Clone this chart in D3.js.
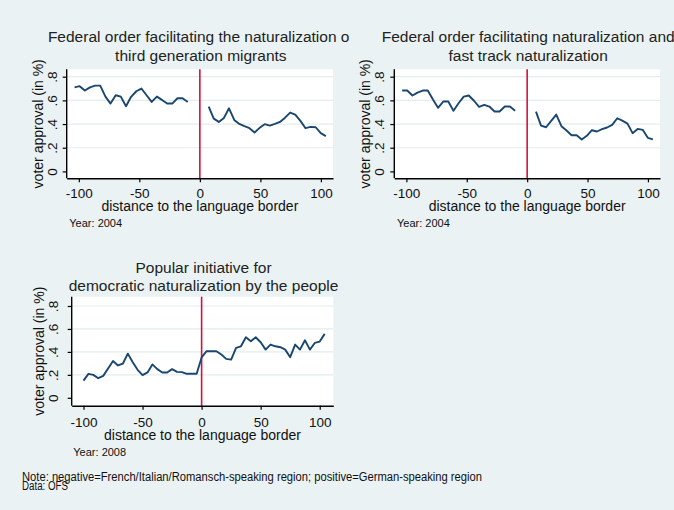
<!DOCTYPE html>
<html><head><meta charset="utf-8">
<script src="https://cdn.jsdelivr.net/npm/d3@7"></script>
<style>html,body{margin:0;padding:0;background:#eaf2f3}svg{display:block}</style>
</head><body>
<svg id="c" width="674" height="510"></svg>
<script>
// ---------------- data ----------------
const xTicks = [-100, -50, 0, 50, 100];
const xTickLabels = ["-100", "-50", "0", "50", "100"];
const yTicks = [0, 0.2, 0.4, 0.6, 0.8];
const yTickLabels = ["0", ".2", ".4", ".6", ".8"];

const title1 = ["Federal order facilitating the naturalization of", "third generation migrants"];
const title2 = ["Federal order facilitating naturalization and", "fast track naturalization"];
const title3 = ["Popular initiative for", "democratic naturalization by the people"];
const xTitle = "distance to the language border";
const yTitle = "voter approval (in %)";
const years = ["Year: 2004", "Year: 2004", "Year: 2008"];
const noteLines = ["Note: negative=French/Italian/Romansch-speaking region; positive=German-speaking region", "Data: OFS"];

// 2004 votes: distance bins (left = French/Italian side, right = German side)
const dist2004Left = [-103.5, -99.3, -95, -90.8, -86.5, -82.3, -78, -73.8, -69.5, -65.3, -61, -56.8, -52.5, -48.3, -44, -39.8, -35.5, -31.3, -27, -22.8, -18.5, -14.3, -10];
const dist2004Right = [7.3, 11.5, 15.7, 19.9, 24.1, 28.4, 32.6, 36.8, 41, 45.2, 49.4, 53.6, 57.8, 62, 66.2, 70.4, 74.6, 78.8, 83.1, 87.3, 91.5, 95.7, 99.9, 104.1];

const thirdGenLeft = [0.71, 0.72, 0.683, 0.71, 0.725, 0.725, 0.632, 0.573, 0.643, 0.632, 0.551, 0.63, 0.677, 0.70, 0.643, 0.587, 0.632, 0.604, 0.573, 0.573, 0.618, 0.618, 0.587];
const thirdGenRight = [0.547, 0.446, 0.418, 0.452, 0.533, 0.435, 0.401, 0.382, 0.365, 0.329, 0.368, 0.399, 0.387, 0.401, 0.418, 0.454, 0.497, 0.480, 0.427, 0.365, 0.376, 0.373, 0.323, 0.298];

const fastTrackLeft = [0.683, 0.683, 0.641, 0.666, 0.683, 0.683, 0.607, 0.537, 0.590, 0.590, 0.512, 0.576, 0.632, 0.641, 0.597, 0.545, 0.562, 0.548, 0.506, 0.506, 0.548, 0.548, 0.512];
const fastTrackRight = [0.505, 0.387, 0.373, 0.427, 0.480, 0.382, 0.345, 0.306, 0.306, 0.270, 0.301, 0.348, 0.337, 0.357, 0.371, 0.393, 0.449, 0.429, 0.404, 0.323, 0.359, 0.351, 0.284, 0.270];

// 2008 vote
const dist2008 = [-100, -95.8, -91.7, -87.5, -83.3, -79.2, -75, -70.8, -66.7, -62.5, -58.3, -54.2, -50, -45.8, -41.7, -37.5, -33.3, -29.2, -25, -20.8, -16.7, -12.5, -8.3, -4.2, 0,
  4.2, 8.3, 12.5, 16.7, 20.8, 25, 29.2, 33.3, 37.5, 41.7, 45.8, 50, 54.2, 58.3, 62.5, 66.7, 70.8, 75, 79.2, 83.3, 87.5, 91.7, 95.8, 100, 104.2];
const democraticNat = [0.15, 0.209, 0.20, 0.171, 0.191, 0.256, 0.32, 0.282, 0.297, 0.385, 0.309, 0.244, 0.197, 0.221, 0.291, 0.25, 0.221, 0.221, 0.25, 0.226, 0.224, 0.209, 0.209, 0.209, 0.352,
  0.406, 0.406, 0.406, 0.377, 0.339, 0.333, 0.435, 0.449, 0.528, 0.493, 0.528, 0.484, 0.42, 0.464, 0.449, 0.441, 0.42, 0.354, 0.464, 0.42, 0.501, 0.42, 0.478, 0.49, 0.557];

// ---------------- drawing ----------------
const BG = "#eaf2f3", GRID = "#e3ecef", LINE = "#1a476f", RED = "#d1123f";
const FONT = "'Liberation Sans', Arial, Helvetica, sans-serif";
const svg = d3.select("#c");
svg.append("rect").attr("width", 674).attr("height", 510).attr("fill", BG);
const defs = svg.append("defs");

const panels = [
  { clip: [0, 0, 349, 250], L: 66.7, R: 333, T: 69.3, B: 178.3, xd: [-110, 110], y0: 171.4, y8: 76.7,
    title: title1, tY: [42.2, 60.6], ytx: 14.4, ytt: 29, xtY: 198, xttY: 210.5, yearY: 227, yearX: 69.3,
    series: [[dist2004Left, thirdGenLeft], [dist2004Right, thirdGenRight]], year: years[0] },
  { clip: [349, 0, 325, 250], L: 394.3, R: 660, T: 69.3, B: 178.3, xd: [-110, 110], y0: 171.4, y8: 76.7,
    title: title2, tY: [42.2, 60.6], ytx: 14.4, ytt: 29, xtY: 198, xttY: 210.5, yearY: 227, yearX: 397,
    series: [[dist2004Left, fastTrackLeft], [dist2004Right, fastTrackRight]], year: years[1] },
  { clip: [0, 250, 349, 210], L: 71.7, R: 333.3, T: 296.7, B: 405.7, xd: [-110, 111.5], y0: 397.8, y8: 306,
    title: title3, tY: [273.4, 290.6], ytx: 17.7, ytt: 33, xtY: 427.4, xttY: 439.5, yearY: 455.7, yearX: 73.3,
    series: [[dist2008, democraticNat]], year: years[2] }
];

panels.forEach((p, i) => {
  const cid = "clip" + i;
  defs.append("clipPath").attr("id", cid).append("rect")
    .attr("x", p.clip[0]).attr("y", p.clip[1]).attr("width", p.clip[2]).attr("height", p.clip[3]);
  const g = svg.append("g").attr("clip-path", `url(#${cid})`);
  const x = d3.scaleLinear().domain(p.xd).range([p.L, p.R]);
  const y = d3.scaleLinear().domain([0, 0.8]).range([p.y0, p.y8]);
  const cx = (p.L + p.R) / 2;

  // plot region
  g.append("rect").attr("x", p.L).attr("y", p.T).attr("width", p.R - p.L).attr("height", p.B - p.T).attr("fill", "#fff");
  // grid
  g.selectAll(".grid").data(yTicks.filter(d => d > 0)).enter().append("line")
    .attr("x1", p.L).attr("x2", p.R).attr("y1", d => y(d)).attr("y2", d => y(d))
    .attr("stroke", GRID).attr("stroke-width", 1.2);

  // title
  p.title.forEach((t, k) => g.append("text").attr("x", cx + 1).attr("y", p.tY[k]).attr("text-anchor", "middle")
    .attr("font-family", FONT).attr("font-size", 15.5).attr("fill", "#222").text(t));

  // red border line
  g.append("line").attr("x1", x(0)).attr("x2", x(0)).attr("y1", p.T).attr("y2", p.B)
    .attr("stroke", RED).attr("stroke-width", 1.6);

  // series
  const line = d3.line().x(d => x(d[0])).y(d => y(d[1]));
  p.series.forEach(([xs, ys]) => {
    g.append("path").datum(xs.map((v, k) => [v, ys[k]])).attr("d", line)
      .attr("fill", "none").attr("stroke", LINE).attr("stroke-width", 1.9).attr("stroke-linejoin", "round");
  });

  // axes
  const xa = g.append("g").attr("transform", `translate(0,${p.B})`)
    .call(d3.axisBottom(x).tickValues(xTicks).tickFormat((d, k) => xTickLabels[k]).tickSize(4).tickSizeOuter(0));
  xa.select(".domain").attr("stroke", "#000").attr("stroke-width", 1.4);
  xa.selectAll(".tick line").attr("stroke", "#000").attr("stroke-width", 1.2);
  xa.selectAll(".tick text").attr("font-family", FONT).attr("font-size", 13.5).attr("fill", "#111")
    .attr("dy", null).attr("y", p.xtY - p.B);

  const ya = g.append("g").attr("transform", `translate(${p.L},0)`)
    .call(d3.axisLeft(y).tickValues(yTicks).tickFormat((d, k) => yTickLabels[k]).tickSize(4).tickSizeOuter(0));
  ya.select(".domain").attr("stroke", "#000").attr("stroke-width", 1.4).attr("d", `M0,${p.T}V${p.B}`);
  ya.selectAll(".tick line").attr("stroke", "#000").attr("stroke-width", 1.2);
  ya.selectAll(".tick text").attr("font-family", FONT).attr("font-size", 13.5).attr("fill", "#111")
    .attr("x", null).attr("dy", null).attr("text-anchor", "middle").attr("dominant-baseline", "central")
    .attr("transform", `translate(${-p.ytx},0) rotate(-90)`);

  // axis titles
  g.append("text").attr("transform", `translate(${p.L - p.ytt},${(p.T + p.B) / 2}) rotate(-90)`)
    .attr("text-anchor", "middle").attr("dominant-baseline", "central")
    .attr("font-family", FONT).attr("font-size", 14).attr("fill", "#111").text(yTitle);
  g.append("text").attr("x", cx).attr("y", p.xttY).attr("text-anchor", "middle")
    .attr("font-family", FONT).attr("font-size", 14).attr("fill", "#111").text(xTitle);
  g.append("text").attr("x", p.yearX).attr("y", p.yearY)
    .attr("font-family", FONT).attr("font-size", 11).attr("fill", "#111").text(p.year);
});

// note (condensed like the reference)
const noteWidths = [460, 46];
noteLines.forEach((t, k) => svg.append("text").attr("x", 22).attr("y", 480.5 + k * 9.5)
  .attr("font-family", FONT).attr("font-size", 12.5).attr("fill", "#111")
  .attr("textLength", noteWidths[k]).attr("lengthAdjust", "spacingAndGlyphs").text(t));
</script>
</body></html>
